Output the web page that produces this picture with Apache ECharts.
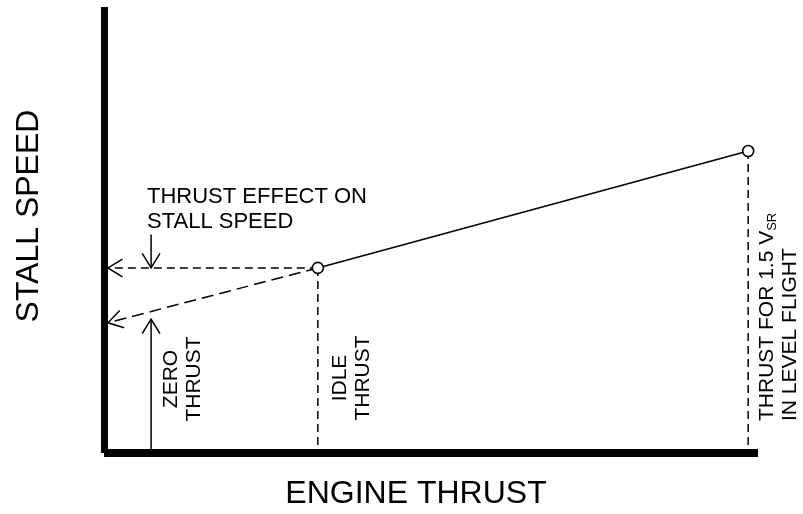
<!DOCTYPE html>
<html>
<head>
<meta charset="utf-8">
<script src="https://cdn.jsdelivr.net/npm/echarts@6/dist/echarts.min.js"></script>
<style>
  html, body { margin: 0; padding: 0; background: #fff; }
  #main { width: 803px; height: 514px; }
</style>
</head>
<body>
<div id="main"></div>
<script>
// values: thrust and stall speed on a 0-100 scale
const idlePoint = [32.7, 41.5]
const levelFlightPoint = [98.5, 67.7]
const zeroThrustStall = 29.2
const axisTip = 0.6 // arrows stop at the stall speed axis
const markerThrust = 7.2 // where the two small arrows stand
const effectArrowTop = 49
const zeroArrowTop = 30

const FONT = '"Liberation Sans", Arial, sans-serif'

// line segments [x1, y1, x2, y2], arrow head at the second end
const dashedToAxis = [
  [idlePoint[0], idlePoint[1], axisTip, idlePoint[1]],
  [idlePoint[0], idlePoint[1], axisTip, zeroThrustStall]
]
const markerArrows = [
  [markerThrust, effectArrowTop, markerThrust, idlePoint[1]],
  [markerThrust, 0, markerThrust, zeroArrowTop]
]
const dropLines = [
  [idlePoint[0], idlePoint[1], idlePoint[0], 0],
  [levelFlightPoint[0], levelFlightPoint[1], levelFlightPoint[0], 0]
]

/* draws a segment, with an open arrow head if asked */
function segmentRenderer(dash, withHead) {
  return function (params, api) {
    const p1 = api.coord([api.value(0), api.value(1)])
    const p2 = api.coord([api.value(2), api.value(3)])
    const children = [
      {
        type: 'line',
        shape: { x1: p1[0], y1: p1[1], x2: p2[0], y2: p2[1] },
        style: { stroke: '#000', lineWidth: 1.5, lineDash: dash }
      }
    ]
    if (withHead) {
      const ang = Math.atan2(p2[1] - p1[1], p2[0] - p1[0])
      const len = 17
      const spread = 0.55
      const a1 = [p2[0] - len * Math.cos(ang - spread), p2[1] - len * Math.sin(ang - spread)]
      const a2 = [p2[0] - len * Math.cos(ang + spread), p2[1] - len * Math.sin(ang + spread)]
      children.push({
        type: 'polyline',
        shape: { points: [a1, p2, a2] },
        style: { stroke: '#000', lineWidth: 1.5, fill: 'none' }
      })
    }
    return { type: 'group', children: children }
  }
}

const dashLong = [12, 6]
const dashShort = [8, 5]

const option = {
  backgroundColor: '#fff',
  animation: false,
  grid: { left: 104, right: 45, top: 7, bottom: 61 },
  xAxis: {
    type: 'value',
    min: 0,
    max: 100,
    axisLine: { show: true, lineStyle: { color: '#000', width: 8, cap: 'butt' } },
    axisTick: { show: false },
    axisLabel: { show: false },
    splitLine: { show: false }
  },
  yAxis: {
    type: 'value',
    min: 0,
    max: 100,
    axisLine: { show: true, lineStyle: { color: '#000', width: 7, cap: 'butt' } },
    axisTick: { show: false },
    axisLabel: { show: false },
    splitLine: { show: false }
  },
  series: [
    {
      type: 'line',
      data: [idlePoint, levelFlightPoint],
      symbol: 'none',
      lineStyle: { color: '#000', width: 1.5 },
      z: 3
    },
    {
      type: 'custom',
      data: [dashedToAxis[0]],
      renderItem: segmentRenderer(dashShort, true),
      z: 2
    },
    {
      type: 'custom',
      data: [dashedToAxis[1]],
      renderItem: segmentRenderer(dashLong, true),
      z: 2
    },
    {
      type: 'custom',
      data: dropLines,
      renderItem: segmentRenderer(dashShort, false),
      z: 2
    },
    {
      type: 'custom',
      data: markerArrows,
      renderItem: segmentRenderer(null, true),
      z: 2
    },
    {
      type: 'scatter',
      data: [idlePoint, levelFlightPoint],
      symbol: 'circle',
      symbolSize: 11,
      itemStyle: { color: '#fff', opacity: 1, borderColor: '#000', borderWidth: 1.6 },
      z: 5
    }
  ],
  graphic: [
    {
      type: 'text', x: 29, y: 216, rotation: Math.PI / 2,
      style: { text: 'STALL SPEED', fontSize: 32, fontFamily: FONT, fill: '#000', align: 'center', verticalAlign: 'middle' }
    },
    {
      type: 'text', x: 416, y: 494,
      style: { text: 'ENGINE THRUST', fontSize: 32, fontFamily: FONT, fill: '#000', align: 'center', verticalAlign: 'middle' }
    },
    {
      type: 'text', x: 147, y: 184,
      style: { text: 'THRUST EFFECT ON\nSTALL SPEED', fontSize: 22, lineHeight: 25, fontFamily: FONT, fill: '#000', align: 'left', verticalAlign: 'top' }
    },
    {
      type: 'text', x: 182.5, y: 379, rotation: Math.PI / 2,
      style: { text: 'ZERO\nTHRUST', fontSize: 21, lineHeight: 23, fontFamily: FONT, fill: '#000', align: 'center', verticalAlign: 'middle' }
    },
    {
      type: 'text', x: 351.5, y: 378, rotation: Math.PI / 2,
      style: { text: 'IDLE\nTHRUST', fontSize: 21, lineHeight: 23, fontFamily: FONT, fill: '#000', align: 'center', verticalAlign: 'middle' }
    },
    {
      type: 'text', x: 779, y: 421, rotation: Math.PI / 2,
      style: {
        text: 'THRUST FOR 1.5 V{sub|SR}\nIN LEVEL FLIGHT',
        fontSize: 21, lineHeight: 23, fontFamily: FONT, fill: '#000', align: 'left', verticalAlign: 'middle',
        rich: { sub: { fontSize: 13, fontFamily: FONT, fill: '#000', verticalAlign: 'bottom', lineHeight: 23 } }
      }
    }
  ]
}

const chartDom = document.getElementById('main')
const myChart = echarts.init(chartDom)
myChart.setOption(option)
</script>
</body>
</html>
